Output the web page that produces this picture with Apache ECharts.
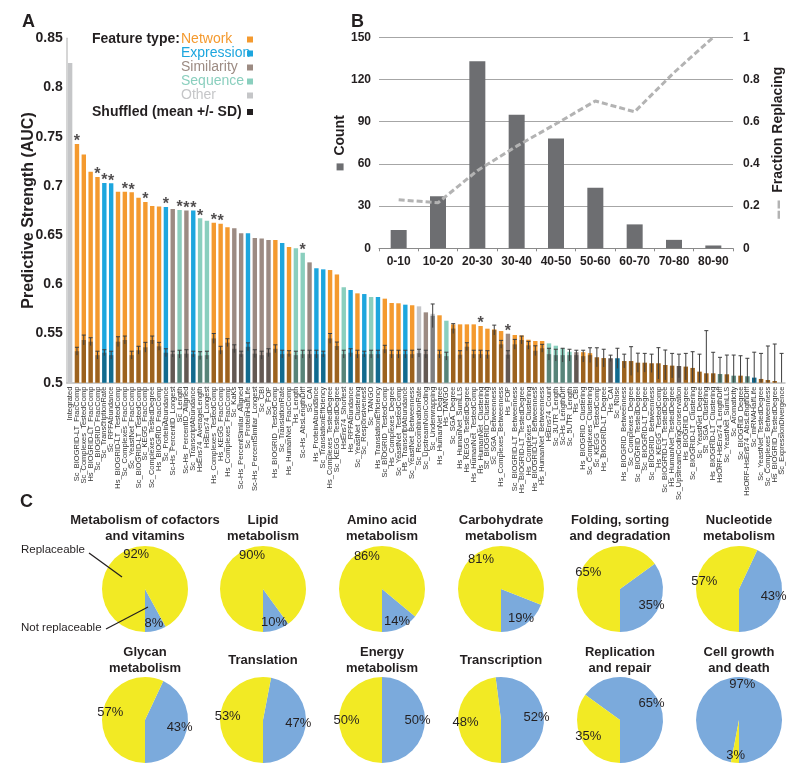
<!DOCTYPE html>
<html><head><meta charset="utf-8">
<script src="https://cdn.jsdelivr.net/npm/echarts@6/dist/echarts.min.js"></script>
<style>html,body{margin:0;padding:0;background:#fff}#c{width:800px;height:774px}</style>
</head><body><div id="c"></div><script>
// ---------- Panel A data ----------
const featNames = [
 'Integrated','Sc_BIOGRID-LT_FracComp','Sc_Complexes_TestedComp','Hs_BIOGRID-LT_FracComp','Sc_BIOGRID_FracComp','Sc_TranscriptionRate','Sc_RPFAbundance','Hs_BIOGRID-LT_TestedComp','Sc_Complexes_FracComp','Sc_YeastNet_FracComp',
 'Sc_BIOGRID-LT_TestedComp','Sc_KEGG_FracComp','Sc_Complexes_TestedDegree','Hs_BIOGRID_FracComp','Sc_ProteinAbundance','Sc-Hs_PercentID_Longest','Sc_Length','Sc-Hs_PercentID_Aligned','Sc_TranscriptAbundance','HsEns74_AverageLength',
 'HsEns74_Longest','Hs_Complexes_TestedComp','Hs_KEGG_FracComp','Hs_Complexes_FracComp','Sc_KaKs','Sc-Hs_PercentSimilar_Aligned','Sc_ProteinHalfLife','Sc-Hs_PercentSimilar_Longest','Sc_CBI','Sc_FOP',
 'Hs_BIOGRID_TestedComp','Sc_TranslationRate','Hs_HumanNet_FracComp','Hs_Length','Sc-Hs_AbsLengthDiff','Sc_CAI','Hs_ProteinAbundance','Sc_TranslationEfficiency','Hs_Complexes_TestedDegree','Sc_KEGG_TestedDegree',
 'HsEns74_Shortest','Hs_RPFAbundance','Sc_YeastNet_Clustering','Sc_Responsiveness','Sc_TANGO','Hs_TranslationEfficiency','Sc_BIOGRID_TestedComp','Hs_Complexes_Degree','Sc_YeastNet_TestedComp','Hs_TranscriptAbundance',
 'Sc_YeastNet_Betweenness','Sc_RecombinationRate','Sc_UpstreamNonCoding','Sc_Underwrapping','Hs_HumanNet_Degree','Hs_TANGO','Sc_SGA_Degree','Hs_HumanNet_SumLLS','Hs_KEGG_TestedDegree','Hs_HumanNet_TestedComp',
 'Hs_HumanNet_Clustering','Sc_BIOGRID_Clustering','Sc_SGA_Betweenness','Hs_Complexes_Betweenness','Hs_FOP','Sc_BIOGRID-LT_Betweenness','Hs_BIOGRID-LT_TestedDegree','Hs_Complexes_Clustering','Hs_BIOGRID-LT_Betweenness','Hs_HumanNet_Betweenness',
 'HsEns74_Count','Sc_3UTR_Length','Sc-Hs_LengthDiff','Sc_5UTR_Length','Hs_CBI','Hs_BIOGRID_Clustering','Sc_Complexes_Clustering','Sc_KEGG_TestedComp','Hs_BIOGRID-LT_Degree','Hs_CAI',
 'Sc_Noise','Hs_BIOGRID_Betweenness','Sc_Complexes_Degree','Sc_BIOGRID_TestedDegree','Sc_BIOGRID-LT_Degree','Sc_BIOGRID_Betweenness','Hs_KEGG_TestedComp','Sc_BIOGRID-LT_TestedDegree','Hs_HumanNet_TestedDegree','Sc_UpstreamCodingConservation',
 'Hs_BIOGRID_Degree','Sc_BIOGRID-LT_Clustering','Sc_YeastNet_Degree','Sc_SGA_Clustering','Hs_BIOGRID-LT_Clustering','HsORF-HsEns74_LengthDiff','Sc_YeastNet_SumLLS','Sc_Aromaticity','Sc_BIOGRID_Degree','HsORF-HsEns74_AbsLengthDiff',
 'Sc_mRNAHalfLife','Sc_YeastNet_TestedDegree','Sc_Complexes_Betweenness','Hs_BIOGRID_TestedDegree','Sc_ExpressionDivergence'
];
// N=Network, E=Expression, S=Similarity, Q=Sequence, O=Other
const featType = [
 'O','N','N','N','N','E','E','N','N','N',
 'N','N','N','N','E','S','Q','S','E','Q',
 'Q','N','N','N','S','S','E','S','S','S',
 'N','E','N','Q','Q','S','E','E','N','N',
 'Q','E','N','E','Q','E','N','N','N','E',
 'N','O','S','O','N','Q','N','N','N','N',
 'N','N','N','N','S','N','N','N','N','N',
 'Q','Q','Q','Q','S','N','N','N','N','S',
 'E','N','N','N','N','N','N','N','N','S',
 'N','N','N','N','N','Q','N','Q','N','Q',
 'E','N','N','N','E'
];
const aucValues = [
 0.825, 0.7426, 0.732, 0.7145, 0.709, 0.703, 0.7026, 0.694, 0.694, 0.6935,
 0.688, 0.6837, 0.6796, 0.679, 0.6786, 0.6765, 0.6755, 0.675, 0.675, 0.667,
 0.6646, 0.6626, 0.6616, 0.658, 0.657, 0.652, 0.652, 0.647, 0.6465, 0.645,
 0.645, 0.642, 0.638, 0.6366, 0.632, 0.6223, 0.6163, 0.6152, 0.6145, 0.610,
 0.597, 0.5942, 0.5908, 0.5901, 0.5871, 0.5871, 0.5854, 0.581, 0.5807, 0.5793,
 0.5787, 0.5776, 0.5715, 0.570, 0.5685, 0.563, 0.5593, 0.5593, 0.5593, 0.5593,
 0.5576, 0.5549, 0.5542, 0.5525, 0.5498, 0.5485, 0.548, 0.5437, 0.5424, 0.5424,
 0.540, 0.5376, 0.535, 0.5315, 0.531, 0.531, 0.530, 0.5258, 0.525, 0.5248,
 0.5248, 0.522, 0.522, 0.5203, 0.5203, 0.5197, 0.5197, 0.518, 0.5173, 0.517,
 0.5163, 0.515, 0.5112, 0.5095, 0.5095, 0.5088, 0.5085, 0.5071, 0.5071, 0.5065,
 0.5051, 0.5038, 0.5027, 0.5017, 0.500
];
const shuffledMean = [
 0.5, 0.532, 0.5434, 0.5417, 0.528, 0.5305, 0.528, 0.5417, 0.5434, 0.528,
 0.533, 0.536, 0.5434, 0.537, 0.5305, 0.529, 0.529, 0.5295, 0.529, 0.5275,
 0.528, 0.545, 0.533, 0.5407, 0.5345, 0.529, 0.5365, 0.5295, 0.528, 0.5305,
 0.5345, 0.529, 0.5295, 0.528, 0.529, 0.529, 0.529, 0.529, 0.545, 0.5373,
 0.529, 0.5305, 0.529, 0.529, 0.529, 0.529, 0.534, 0.529, 0.529, 0.529,
 0.529, 0.530, 0.529, 0.568, 0.529, 0.527, 0.555, 0.5285, 0.5366, 0.529,
 0.529, 0.5285, 0.5535, 0.539, 0.5285, 0.539, 0.5434, 0.538, 0.5325, 0.535,
 0.529, 0.528, 0.528, 0.528, 0.528, 0.527, 0.528, 0.5258, 0.525, 0.5248,
 0.5248, 0.522, 0.522, 0.5203, 0.5203, 0.5197, 0.5197, 0.518, 0.5173, 0.517,
 0.5163, 0.515, 0.5112, 0.5095, 0.5095, 0.5088, 0.5085, 0.5071, 0.5071, 0.5065,
 0.5051, 0.5038, 0.5027, 0.5017, 0.500
];
const shuffledSD = [
 0, 0.004, 0.005, 0.004, 0.004, 0.003, 0.004, 0.005, 0.004, 0.004,
 0.004, 0.005, 0.004, 0.004, 0.004, 0.003, 0.004, 0.004, 0.003, 0.004,
 0.004, 0.005, 0.004, 0.004, 0.004, 0.003, 0.004, 0.004, 0.004, 0.004,
 0.004, 0.004, 0.003, 0.004, 0.004, 0.004, 0.004, 0.003, 0.005, 0.004,
 0.004, 0.004, 0.004, 0.003, 0.004, 0.004, 0.004, 0.004, 0.004, 0.004,
 0.004, 0.004, 0.004, 0.012, 0.004, 0.004, 0.005, 0.004, 0.004, 0.004,
 0.004, 0.004, 0.005, 0.004, 0.004, 0.005, 0.004, 0.004, 0.005, 0.004,
 0.006, 0.006, 0.007, 0.006, 0.005, 0.006, 0.0075, 0.0097, 0.009, 0.0032,
 0.0102, 0.007, 0.0146, 0.0097, 0.0095, 0.0093, 0.0159, 0.0152, 0.0125, 0.012,
 0.0135, 0.0165, 0.0178, 0.0434, 0.0214, 0.017, 0.0196, 0.021, 0.0203, 0.0183,
 0.0259, 0.026, 0.0346, 0.0376, 0.0298
];
const starredFeatures = [
 'Sc_BIOGRID-LT_FracComp','Sc_BIOGRID_FracComp','Sc_TranscriptionRate','Sc_RPFAbundance','Sc_Complexes_FracComp','Sc_YeastNet_FracComp',
 'Sc_KEGG_FracComp','Sc_ProteinAbundance','Sc_Length','Sc-Hs_PercentID_Aligned','Sc_TranscriptAbundance','HsEns74_AverageLength',
 'Hs_Complexes_TestedComp','Hs_KEGG_FracComp','Sc-Hs_AbsLengthDiff','Hs_HumanNet_Clustering','Hs_FOP'
];
const typeLabels = ['Network','Expression','Similarity','Sequence','Other'];
const typeCodes  = ['N','E','S','Q','O'];

// ---------- Panel B data ----------
const bins = ['0-10','10-20','20-30','30-40','40-50','50-60','60-70','70-80','80-90'];
const binCounts = [13, 37, 133, 95, 78, 43, 17, 6, 2];
const fractionReplacing = [0.23, 0.216, 0.368, 0.484, 0.59, 0.698, 0.647, 0.833, 1.0];

// ---------- Panel C data ----------
const pathways = ['Metabolism of cofactors\nand vitamins','Lipid\nmetabolism','Amino acid\nmetabolism','Carbohydrate\nmetabolism','Folding, sorting\nand degradation','Nucleotide\nmetabolism',
                  'Glycan\nmetabolism','Translation','Energy\nmetabolism','Transcription','Replication\nand repair','Cell growth\nand death'];
const replaceablePct    = [92, 90, 86, 81, 65, 57, 57, 53, 50, 48, 35, 3];
const notReplaceablePct = [8, 10, 14, 19, 35, 43, 43, 47, 50, 52, 65, 97];

// ---------- styling ----------
const F = '"Liberation Sans", Arial, Helvetica, sans-serif';
const TXT = '#231f20';
const typeColor = {N:'#F49A2F', E:'#1DA6DE', S:'#9C8B83', Q:'#8ACFBE', O:'#C5C6C8'};
const YEL = '#F2EA24', BLU = '#7BAADC';

const chart = echarts.init(document.getElementById('c'), null, {renderer:'canvas'});

const series = [];
// Panel A bars
series.push({
  type:'bar', xAxisIndex:0, yAxisIndex:0, barWidth:4.4, z:2, silent:true,
  data: aucValues.map((v,i)=>({value:v, itemStyle:{color:typeColor[featType[i]]}}))
});
series.push({
  type:'bar', xAxisIndex:0, yAxisIndex:0, barWidth:4.4, barGap:'-100%', z:3, silent:true,
  itemStyle:{color:'rgba(0,0,0,0.36)'}, data: shuffledMean
});
series.push({
  type:'custom', xAxisIndex:0, yAxisIndex:0, z:4, silent:true, clip:true,
  data: shuffledMean.map((m,i)=>[i, m, shuffledSD[i]]).filter(d=>d[2]>0),
  renderItem(params, api){
    const x = api.value(0), m = api.value(1), s = api.value(2);
    const top = api.coord([x, m + s]);
    const bot = api.coord([x, Math.max(0.5, m - s)]);
    const st = {stroke:'#3d3d3d', lineWidth:1};
    return {type:'group', children:[
      {type:'line', shape:{x1:top[0], y1:top[1], x2:bot[0], y2:bot[1]}, style:st},
      {type:'line', shape:{x1:top[0]-2, y1:top[1], x2:top[0]+2, y2:top[1]}, style:st}
    ]};
  }
});
series.push({
  type:'scatter', xAxisIndex:0, yAxisIndex:0, z:5, silent:true, symbolSize:0,
  data: featNames.map((n,i)=>starredFeatures.includes(n)?[i, aucValues[i]]:null).filter(d=>d),
  label:{show:true, formatter:'*', position:'top', distance:-6, fontSize:16, fontWeight:'bold', color:TXT, fontFamily:F}
});
// Panel B
series.push({
  type:'bar', xAxisIndex:1, yAxisIndex:1, barWidth:16, silent:true, z:2,
  itemStyle:{color:'#6d6e71'}, data: binCounts
});
series.push({
  type:'line', xAxisIndex:1, yAxisIndex:2, symbol:'none', silent:true, z:3,
  lineStyle:{color:'#b3b3b3', width:3, type:[6,3]}, data: fractionReplacing
});
// Panel C pies
const colX = [145, 263, 382, 501, 620, 739];
const rowY = [589, 720];
const R = 43;
pathways.forEach((name, i)=>{
  const cx = colX[i % 6], cy = rowY[Math.floor(i / 6)];
  const p = notReplaceablePct[i] / (notReplaceablePct[i] + replaceablePct[i]);
  const start = ((360 * p - 90) % 360 + 360) % 360;
  const d = [{name:'Not replaceable', value:notReplaceablePct[i]}, {name:'Replaceable', value:replaceablePct[i]}];
  series.push({
    type:'pie', center:[cx, cy], radius:[0, R], startAngle:start, clockwise:true, silent:true,
    avoidLabelOverlap:false, label:{show:false}, labelLine:{show:false},
    data: d.map((x,k)=>({...x, itemStyle:{color:k===0?BLU:YEL}}))
  });
  series.push({
    type:'pie', center:[cx, cy], radius:[22, R], startAngle:start, clockwise:true, silent:true,
    avoidLabelOverlap:false, labelLine:{show:false},
    label:{show:true, position:'inside', formatter:'{c}%', fontSize:13, color:TXT, fontFamily:F},
    itemStyle:{color:'rgba(0,0,0,0)'}, data: d
  });
});

// graphics
const g = [];
const txt = (x, y, text, font, fill, align, va) => ({type:'text', x, y, silent:true, z:50,
  style:{text, font, fill: fill||TXT, align: align||'left', verticalAlign: va||'top', textAlign: align||'left', textVerticalAlign: va||'top'}});
g.push(txt(22, 13, 'A', 'bold 18px ' + F));
g.push(txt(351, 13, 'B', 'bold 18px ' + F));
g.push(txt(20, 493, 'C', 'bold 18px ' + F));
// legend A
g.push(txt(92, 39, 'Feature type:', 'bold 14px ' + F, TXT, 'left', 'middle'));
const legY = [39.5, 53.5, 67.5, 81.5, 95.5];
typeLabels.forEach((t,k)=>{
  g.push(txt(181, legY[k], t, '14px ' + F, typeColor[typeCodes[k]], 'left', 'middle'));
  g.push({type:'rect', silent:true, z:50, shape:{x:247, y:legY[k]-3, width:6, height:6}, style:{fill:typeColor[typeCodes[k]]}});
});
g.push(txt(92, 112, 'Shuffled (mean +/- SD)', 'bold 14px ' + F, TXT, 'left', 'middle'));
g.push({type:'rect', silent:true, z:50, shape:{x:247, y:109, width:6, height:6}, style:{fill:'#231f20'}});
// pie titles
pathways.forEach((name,i)=>{
  const cx = colX[i % 6];
  const ty = i < 6 ? 528 : 660;
  g.push({type:'text', x:cx, y:ty, silent:true, z:50, style:{text:name, font:'bold 13px ' + F, lineHeight:16, fill:TXT,
    align:'center', verticalAlign:'middle', textAlign:'center', textVerticalAlign:'middle'}});
});
// annotations
g.push(txt(21, 550, 'Replaceable', '11.5px ' + F, TXT, 'left', 'middle'));
g.push({type:'line', silent:true, z:50, shape:{x1:89, y1:553, x2:122, y2:577}, style:{stroke:TXT, lineWidth:1.2}});
g.push(txt(21, 628, 'Not replaceable', '11.5px ' + F, TXT, 'left', 'middle'));
g.push({type:'line', silent:true, z:50, shape:{x1:106, y1:629, x2:148, y2:607}, style:{stroke:TXT, lineWidth:1.2}});

const option = {
  animation:false,
  backgroundColor:'#fff',
  textStyle:{fontFamily:F},
  grid:[
    {left:66.7, right:15, top:38.3, bottom:391.3, containLabel:false},
    {left:379, top:37.3, width:354, height:211, containLabel:false}
  ],
  xAxis:[
    {gridIndex:0, type:'category', data:featNames,
     axisLine:{lineStyle:{color:'#bdbdbd', width:1.5}}, axisTick:{show:false},
     axisLabel:{interval:0, rotate:90, fontSize:7.5, color:'#333', margin:4, fontFamily:F}},
    {gridIndex:1, type:'category', data:bins,
     axisLine:{lineStyle:{color:'#8a8a8a'}}, axisTick:{show:true, length:3, interval:0, lineStyle:{color:'#8a8a8a'}},
     axisLabel:{interval:0, hideOverlap:false, fontSize:12, fontWeight:'bold', color:TXT, margin:7, fontFamily:F}}
  ],
  yAxis:[
    {gridIndex:0, type:'value', min:0.5, max:0.85, interval:0.05,
     axisLine:{show:true, lineStyle:{color:'#c8c8c8', width:1.5}}, axisTick:{show:false}, splitLine:{show:false},
     axisLabel:{fontSize:14, fontWeight:'bold', color:TXT, margin:4, fontFamily:F},
     name:'Predictive Strength (AUC)', nameLocation:'middle', nameRotate:90, nameGap:30, nameMoveOverlap:false,
     nameTextStyle:{fontSize:16, fontWeight:'bold', color:TXT, fontFamily:F}},
    {gridIndex:1, type:'value', min:0, max:150, interval:30,
     axisLine:{show:false}, axisTick:{show:false},
     splitLine:{show:true, lineStyle:{color:'#a6a6a6', width:1}},
     axisLabel:{fontSize:12, fontWeight:'bold', color:TXT, margin:8, fontFamily:F},
     name:'{sq|}  Count', nameLocation:'middle', nameRotate:90, nameGap:30,
     nameTextStyle:{fontSize:14, fontWeight:'bold', color:TXT, fontFamily:F,
       rich:{sq:{width:7, height:7, backgroundColor:'#6d6e71'}}}},
    {gridIndex:1, type:'value', position:'right', min:0, max:1, interval:0.2,
     axisLine:{show:false}, axisTick:{show:false}, splitLine:{show:false},
     axisLabel:{fontSize:12, fontWeight:'bold', color:TXT, margin:10, fontFamily:F},
     name:'{d|▬ ▬}  Fraction Replacing', nameLocation:'middle', nameRotate:90, nameGap:38,
     nameTextStyle:{fontSize:14, fontWeight:'bold', color:TXT, fontFamily:F,
       rich:{d:{fontSize:8, color:'#b3b3b3'}}}}
  ],
  series,
  graphic: g
};
chart.setOption(option);
</script></body></html>
